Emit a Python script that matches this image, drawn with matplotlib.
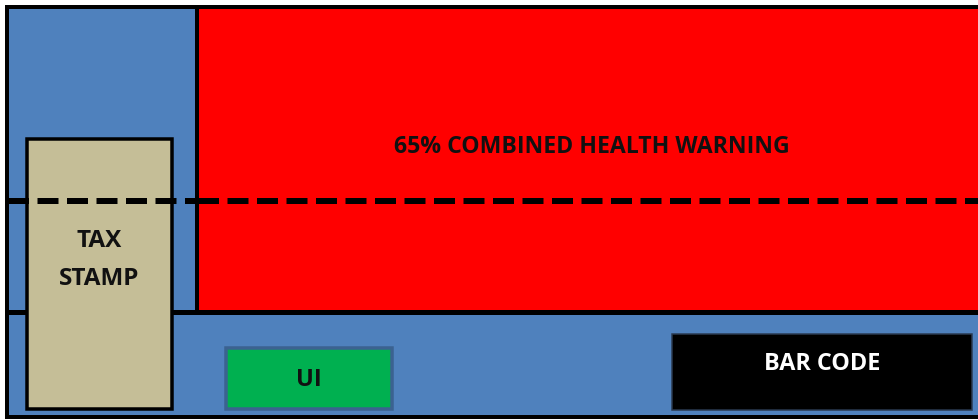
import matplotlib.pyplot as plt
from matplotlib.patches import Rectangle

# layout of the pack face, in pixels (x, y, width, height), y measured from top
labels = ["65% COMBINED HEALTH WARNING", "TAX\nSTAMP", "UI", "BAR CODE"]
boxes = {
    "pack": (7, 7, 990, 410),
    "warning": (197, 7, 800, 305),
    "stamp": (27, 139, 145, 270),
    "ui": (226, 348, 166, 61),
    "barcode": (672, 334, 300, 76),
}
split_y = 312
dash_y = 200.5
dash_runs = [(8, 197), (198, 979)]

blue = "#4F81BD"
red = "#FF0000"
tan = "#C5BE97"
green = "#00B050"

fig = plt.figure(figsize=(9.79, 4.2), dpi=100)
ax = fig.add_axes([0, 0, 1, 1])
ax.set_xlim(0, 979)
ax.set_ylim(420, 0)
ax.axis("off")

px = 72 / 100  # one pixel in points


def box(name, fc, ec, lw, z):
    x, y, w, h = boxes[name]
    ax.add_patch(Rectangle((x, y), w, h, facecolor=fc, edgecolor=ec,
                           linewidth=lw * px, zorder=z))


box("pack", blue, "black", 4, 1)
box("warning", red, "black", 4, 2)
ax.plot([7, 979], [split_y, split_y], color="black", lw=5 * px, zorder=3)
box("stamp", tan, "black", 3.5, 4)
for x0, x1 in dash_runs:
    ax.plot([x0, x1], [dash_y, dash_y], color="black", lw=6 * px,
            dashes=(21 / 6, 8.5 / 6), solid_capstyle="butt",
            dash_capstyle="butt", zorder=5)
box("ui", green, "#3B6290", 3.5, 4)
box("barcode", "black", "#2a3a50", 1.5, 4)

font = "Open Sans"
ax.text(592, 147, labels[0], ha="center", va="center", fontsize=16.6,
        fontweight="bold", family=font, color="#111111", zorder=6)
sx, sy, sw, sh = boxes["stamp"]
ax.text(sx + sw / 2, 260, labels[1], ha="center", va="center", fontsize=17.5,
        fontweight="bold", family=font, color="#111111", linespacing=1.75,
        zorder=6)
ux, uy, uw, uh = boxes["ui"]
ax.text(ux + uw / 2, uy + uh / 2 + 1, labels[2], ha="center", va="center",
        fontsize=17, fontweight="bold", family=font, color="#111111", zorder=6)
bx, by, bw, bh = boxes["barcode"]
ax.text(bx + bw / 2, by + 30, labels[3], ha="center", va="center",
        fontsize=16.8, fontweight="bold", family=font, color="white", zorder=6)

fig.savefig("out.png", dpi=100)
